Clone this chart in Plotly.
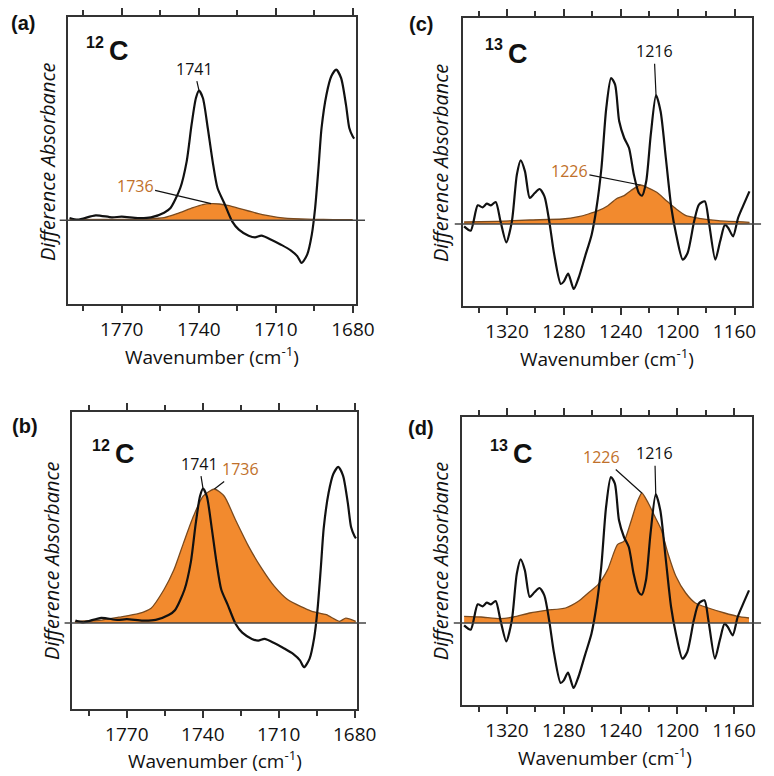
import plotly.graph_objects as go

# ---------------- DATA ----------------
# 12C difference spectrum (black) – panels (a) and (b)
wn_12c_black = [1790.3, 1787.1, 1780.1, 1773.8, 1770.0, 1763.7, 1758.6, 1753.5, 1751.0, 1747.2,
                1744.7, 1742.8, 1741.1, 1739.9, 1738.4, 1736.5, 1734.6, 1732.7, 1730.1, 1727.0,
                1724.4, 1720.6, 1718.1, 1715.6, 1711.8, 1708.0, 1704.2, 1701.6, 1700.0, 1697.8,
                1696.0, 1694.7, 1693.4, 1692.2, 1690.3, 1688.4, 1686.5, 1684.6, 1682.7, 1681.4,
                1680.1, 1679.5]
abs_12c_black = [0.07, 0.02, 0.15, 0.09, 0.11, 0.07, 0.09, 0.23, 0.37, 0.97,
                 1.77, 2.87, 3.67, 3.89, 3.67, 2.77, 1.77, 0.97, 0.52, -0.03,
                 -0.28, -0.46, -0.51, -0.46, -0.58, -0.73, -0.90, -1.08, -1.28, -1.03,
                 -0.43, 0.37, 1.57, 2.77, 3.77, 4.32, 4.52, 4.27, 3.47, 2.77,
                 2.52, 2.45]

# 12C orange spectrum, panel (a)
wn_12c_orange_a = [1790.3, 1776.3, 1763.7, 1759.9, 1753.5, 1748.5, 1742.2, 1738.4, 1735.2, 1732.0,
                   1728.2, 1724.4, 1720.6, 1716.8, 1713.0, 1709.2, 1705.4, 1700.4, 1695.3, 1687.7,
                   1680.1]
abs_12c_orange_a = [0.02, 0.03, 0.03, 0.04, 0.08, 0.20, 0.38, 0.47, 0.50, 0.49,
                    0.44, 0.36, 0.28, 0.20, 0.14, 0.09, 0.06, 0.04, 0.03, 0.02,
                    0.02]

# 12C orange spectrum, panel (b)
wn_12c_orange_b = [1790.5, 1780.9, 1773.2, 1765.5, 1760.4, 1755.3, 1751.4, 1747.6, 1743.7, 1739.9,
                   1735.4, 1731.5, 1727.1, 1721.9, 1716.8, 1711.7, 1706.5, 1701.4, 1696.9, 1691.2,
                   1686.0, 1683.5, 1679.6]
abs_12c_orange_b = [0.05, 0.08, 0.17, 0.27, 0.43, 0.97, 1.54, 2.32, 3.09, 3.67,
                    3.88, 3.67, 2.99, 2.22, 1.59, 1.06, 0.68, 0.48, 0.34, 0.24,
                    0.05, 0.14, 0.05]

# 13C difference spectrum (black) – panels (c) and (d)
wn_13c_black = [1350.2, 1345.6, 1340.6, 1337.2, 1334.2, 1331.4, 1328.0, 1324.6, 1320.5, 1316.6,
                1313.1, 1310.4, 1307.4, 1304.0, 1300.5, 1297.1, 1293.7, 1290.3, 1286.8, 1282.2,
                1280.0, 1277.0, 1273.1, 1269.7, 1265.1, 1260.5, 1257.1, 1253.6, 1250.2, 1246.8,
                1244.0, 1241.1, 1237.6, 1234.2, 1230.8, 1227.3, 1225.0, 1222.1, 1218.9, 1215.2,
                1212.0, 1208.3, 1204.4, 1201.0, 1196.4, 1193.0, 1188.4, 1185.0, 1180.9, 1178.1,
                1173.5, 1170.1, 1166.7, 1164.4, 1161.0, 1157.5, 1154.1, 1149.5]
abs_13c_black = [-0.07, -0.20, 0.56, 0.50, 0.61, 0.56, 0.66, 0.08, -0.55, 0.08,
                 1.48, 1.91, 1.58, 0.78, 0.93, 1.05, 0.83, 0.08, -0.92, -1.80,
                 -1.72, -1.49, -1.95, -1.62, -0.97, -0.32, 0.48, 1.68, 3.48, 4.38,
                 4.18, 3.08, 2.58, 2.28, 1.48, 0.93, 0.85, 1.28, 2.68, 3.86,
                 3.38, 1.98, 0.48, -0.32, -1.07, -0.87, 0.08, 0.58, 0.68, 0.08,
                 -1.07, -0.52, -0.02, -0.12, -0.37, 0.18, 0.53, 0.98]

# 13C orange spectrum, panel (c)
wn_13c_orange_c = [1350.2, 1326.9, 1304.0, 1281.1, 1269.7, 1262.8, 1255.9, 1249.1, 1243.3, 1237.6,
                   1233.0, 1226.2, 1221.6, 1214.7, 1207.9, 1201.0, 1194.1, 1185.0, 1171.3, 1149.5]
abs_13c_orange_c = [0.06, 0.08, 0.12, 0.15, 0.22, 0.30, 0.40, 0.55, 0.75, 0.85,
                    1.00, 1.17, 1.10, 0.95, 0.70, 0.45, 0.25, 0.17, 0.10, 0.05]

# 13C orange spectrum, panel (d)
wn_13c_orange_d = [1350.2, 1338.3, 1324.6, 1315.4, 1304.0, 1292.5, 1278.8, 1269.7, 1262.8, 1255.9,
                   1249.1, 1242.2, 1237.6, 1233.0, 1228.5, 1225.0, 1220.5, 1215.9, 1211.3, 1206.7,
                   1201.0, 1194.1, 1187.3, 1178.1, 1166.7, 1157.5, 1149.5]
abs_13c_orange_d = [0.20, 0.18, 0.13, 0.18, 0.30, 0.38, 0.45, 0.65, 0.90, 1.15,
                    1.60, 2.35, 2.45, 3.00, 3.60, 3.90, 3.60, 3.20, 2.80, 2.10,
                    1.40, 0.90, 0.60, 0.45, 0.30, 0.20, 0.15]

# labels
panel_labels = ["(a)", "(b)", "(c)", "(d)"]
isotope_mass = ["12", "12", "13", "13"]
peak_labels_12c = ["1741", "1736"]
peak_labels_13c = ["1216", "1226"]
tick_12c = [1770, 1740, 1710, 1680]
tick_13c = [1320, 1280, 1240, 1200, 1160]

# ---------------- STYLE ----------------
W, H = 774, 776
BLACK = "#111111"
ORANGE_FILL = "#F28A2E"
ORANGE_LINE = "#7A4A1E"
ORANGE_TEXT = "#C0702A"
FRAME = "#333333"
FONT = "Open Sans"


def px(x):
    return x / W


def py(y):
    return 1 - y / H


panels = [
    dict(xd=(61, 357), yd=(9, 296), xr=(1791.1, 1678.7), yr=(-2.51, 6.10),
         bx=wn_12c_black, by=abs_12c_black, ox=wn_12c_orange_a, oy=abs_12c_orange_a,
         ticks=tick_12c, minor=15, tick0=1680,
         lab_c=(15, 15), mass_c=(89, 35), c_c=(114, 43), yt_c=(41, 154), xt_c=(209, 348)),
    dict(xd=(66, 358), yd=(404, 701), xr=(1791.5, 1679.0), yr=(-2.49, 6.11),
         bx=wn_12c_black, by=abs_12c_black, ox=wn_12c_orange_b, oy=abs_12c_orange_b,
         ticks=tick_12c, minor=15, tick0=1680,
         lab_c=(17, 418), mass_c=(95, 437), c_c=(120, 446), yt_c=(44, 553), xt_c=(212, 752)),
    dict(xd=(466, 763), yd=(10, 298), xr=(1351.3, 1147.5), yr=(-2.46, 6.18),
         bx=wn_13c_black, by=abs_13c_black, ox=wn_13c_orange_c, oy=abs_13c_orange_c,
         ticks=tick_13c, minor=20, tick0=1160,
         lab_c=(423, 16), mass_c=(498, 36), c_c=(523, 46), yt_c=(444, 155), xt_c=(614, 350)),
    dict(xd=(465, 763), yd=(409, 697), xr=(1352.0, 1147.2), yr=(-2.46, 6.18),
         bx=wn_13c_black, by=abs_13c_black, ox=wn_13c_orange_d, oy=abs_13c_orange_d,
         ticks=tick_13c, minor=20, tick0=1160,
         lab_c=(423, 420), mass_c=(503, 437), c_c=(528, 446), yt_c=(443, 553), xt_c=(612, 749)),
]

fig = go.Figure()
annotations = []
shapes = []


def paper_text(text, c, size, family=FONT, angle=0, color="#111"):
    annotations.append(dict(text=text, xref="paper", yref="paper", x=px(c[0]), y=py(c[1]),
                            xanchor="center", yanchor="middle", textangle=angle,
                            showarrow=False, font=dict(family=family, size=size, color=color)))


for i, p in enumerate(panels, start=1):
    xa = "x" if i == 1 else f"x{i}"
    ya = "y" if i == 1 else f"y{i}"
    xkey = "xaxis" if i == 1 else f"xaxis{i}"
    ykey = "yaxis" if i == 1 else f"yaxis{i}"

    fig.add_trace(go.Scatter(x=p["ox"], y=p["oy"], mode="lines", fill="tozeroy",
                             fillcolor=ORANGE_FILL,
                             line=dict(color=ORANGE_LINE, width=1.3, shape="spline", smoothing=0.6),
                             xaxis=xa, yaxis=ya, showlegend=False, hoverinfo="skip"))
    fig.add_trace(go.Scatter(x=p["bx"], y=p["by"], mode="lines",
                             line=dict(color=BLACK, width=2.2, shape="spline", smoothing=0.7),
                             xaxis=xa, yaxis=ya, showlegend=False, hoverinfo="skip"))

    fig.layout[xkey] = dict(domain=[px(p["xd"][0]), px(p["xd"][1])], range=list(p["xr"]),
                            anchor=ya, showgrid=False, zeroline=False,
                            showline=True, linecolor=FRAME, linewidth=1.5, mirror="ticks",
                            ticks="outside", ticklen=7, tickwidth=1.5, tickcolor=FRAME,
                            tickvals=p["ticks"], ticktext=[str(t) for t in p["ticks"]],
                            minor=dict(ticks="outside", dtick=p["minor"], tick0=p["tick0"],
                                       ticklen=5, tickwidth=1.5, tickcolor=FRAME),
                            tickfont=dict(family=FONT, size=19, color="#111"))
    fig.layout[ykey] = dict(domain=[py(p["yd"][1]), py(p["yd"][0])], range=list(p["yr"]),
                            anchor=xa, showgrid=False, zeroline=False, showticklabels=False,
                            showline=True, linecolor=FRAME, linewidth=1.5, mirror=True, ticks="")

    # baseline at zero, extending slightly beyond the frame
    shapes.append(dict(type="line", xref="paper", yref=ya,
                       x0=px(p["xd"][0] - 8), x1=px(p["xd"][1] + 9), y0=0, y1=0,
                       line=dict(color="#444444", width=1.5)))

    paper_text(f"<b>{panel_labels[i - 1]}</b>", p["lab_c"], 20, family="Liberation Sans")
    paper_text(f"<b>{isotope_mass[i - 1]}</b>", p["mass_c"], 16, family="Liberation Sans")
    paper_text("<b>C</b>", p["c_c"], 27, family="Liberation Sans")
    paper_text("<i>Difference Absorbance</i>", p["yt_c"], 20, angle=-90)
    paper_text("Wavenumber (cm<sup>-1</sup>)", p["xt_c"], 19)


def peak(xs, ys):
    k = max(range(len(ys)), key=lambda j: ys[j])
    return xs[k], ys[k]


def label(text, xs, ys, xa, ya, ax, ay, color):
    x0, y0 = peak(xs, ys)
    annotations.append(dict(text=text, x=x0, y=y0, xref=xa, yref=ya, showarrow=True,
                            arrowhead=0, arrowwidth=1.2, arrowcolor="#111", ax=ax, ay=ay,
                            standoff=0, font=dict(family=FONT, size=16, color=color)))


# (a)
label(peak_labels_12c[0], wn_12c_black[:20], abs_12c_black[:20], "x", "y", -5, -22, BLACK)
label(peak_labels_12c[1], wn_12c_orange_a, abs_12c_orange_a, "x", "y", -76, -18, ORANGE_TEXT)
# (b)
label(peak_labels_12c[0], wn_12c_black[:20], abs_12c_black[:20], "x2", "y2", -4, -25, BLACK)
label(peak_labels_12c[1], wn_12c_orange_b, abs_12c_orange_b, "x2", "y2", 26, -20, ORANGE_TEXT)
# (c)
label(peak_labels_13c[0], wn_13c_black[36:], abs_13c_black[36:], "x3", "y3", -2, -44, BLACK)
label(peak_labels_13c[1], wn_13c_orange_c, abs_13c_orange_c, "x3", "y3", -71, -14, ORANGE_TEXT)
# (d)
label(peak_labels_13c[0], wn_13c_black[36:], abs_13c_black[36:], "x4", "y4", -1, -41, BLACK)
label(peak_labels_13c[1], wn_13c_orange_d, abs_13c_orange_d, "x4", "y4", -40, -36, ORANGE_TEXT)

fig.update_layout(width=W, height=H, margin=dict(l=0, r=0, t=0, b=0),
                  paper_bgcolor="white", plot_bgcolor="white",
                  annotations=annotations, shapes=shapes)

fig.write_html("out.html")
